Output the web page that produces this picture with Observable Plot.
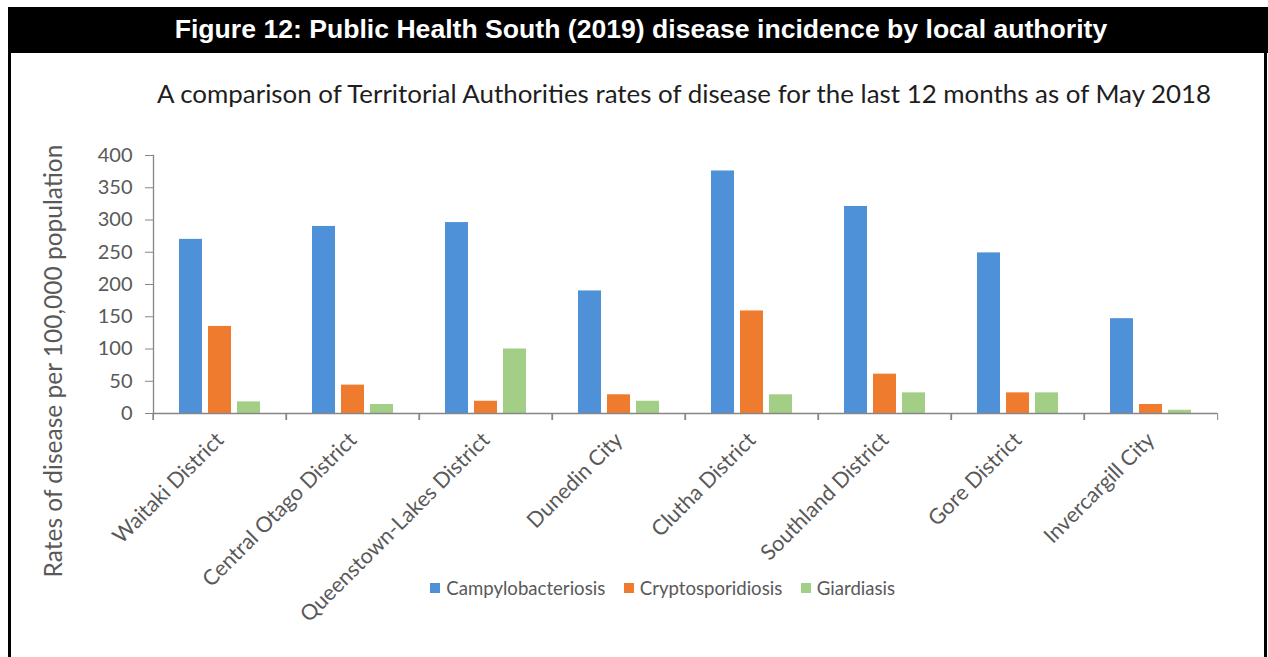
<!DOCTYPE html>
<html><head><meta charset="utf-8">
<script src="https://cdn.jsdelivr.net/npm/d3@7"></script>
<script src="https://cdn.jsdelivr.net/npm/@observablehq/plot@0.6"></script>
<style>
body{margin:0;background:#fff;}
#wrap{position:relative;width:1268px;height:657px;overflow:hidden;background:#fff;font-family:Lato,"Open Sans",sans-serif;}
#titlebar{position:absolute;left:8px;top:7px;width:1260px;height:46px;background:#000;color:#fff;font-family:"Liberation Sans Narrow","Liberation Sans",Arial,sans-serif;font-weight:bold;font-size:26.6px;line-height:44px;text-align:center;white-space:nowrap;}
#titlebar span{display:inline-block;margin-left:6px;}
.bl{position:absolute;background:#000;}
#subtitle{position:absolute;left:100px;width:1168px;top:77px;text-align:center;font-family:Lato,sans-serif;font-size:25.9px;color:#1e1e1e;white-space:nowrap;}
#ytitle{position:absolute;left:-167px;top:348px;width:440px;text-align:center;transform:rotate(-90deg);font-family:Lato,sans-serif;font-size:24.5px;color:#595959;white-space:nowrap;line-height:26px;}
#chart{position:absolute;left:0;top:130px;}
#legend{position:absolute;left:0;width:1268px;top:571px;display:flex;justify-content:center;padding-left:76px;box-sizing:border-box;}
#legend svg{margin-right:6px !important;}
</style>
</head><body>
<div id="wrap">
  <div id="chart"></div>
  <div id="titlebar"><span>Figure 12: Public Health South (2019) disease incidence by local authority</span></div>
  <div class="bl" style="left:8px;top:53px;width:3px;height:604px;"></div>
  <div class="bl" style="left:1264px;top:53px;width:3px;height:604px;"></div>
  <div id="subtitle">A comparison of Territorial Authorities rates of disease for the last 12 months as of May 2018</div>
  <div id="ytitle">Rates of disease per 100,000 population</div>
  <div id="legend"></div>
</div>
<script>
const districts = ["Waitaki District","Central Otago District","Queenstown-Lakes District","Dunedin City","Clutha District","Southland District","Gore District","Invercargill City"];
const diseases = ["Campylobacteriosis","Cryptosporidiosis","Giardiasis"];
const campylobacteriosis = [270, 290, 296, 190, 376, 321, 249, 147];
const cryptosporidiosis = [135, 44, 19, 29, 159, 61, 32, 14];
const giardiasis = [18, 14, 100, 19, 29, 32, 32, 5];
const yTicks = [0, 50, 100, 150, 200, 250, 300, 350, 400];
const colors = ["#4f91d9", "#ef7b2f", "#a3ce85"];

const series = [campylobacteriosis, cryptosporidiosis, giardiasis];
const data = [];
districts.forEach((d, i) => diseases.forEach((s, j) => data.push({district: d, disease: s, value: series[j][i]})));

const W = 1268, H = 500, mL = 152, mR = 50, mT = 25, mB = 217;
const half = (W - mL - mR) / districts.length / 2;
const axisColor = "#868686";
const textColor = "#595959";

const plot = Plot.plot({
  width: W, height: H,
  marginLeft: mL, marginRight: mR, marginTop: mT, marginBottom: mB,
  style: {fontFamily: "Lato, sans-serif", fontSize: "20px", background: "transparent", color: textColor},
  fx: {domain: districts, padding: 0, axis: null},
  x: {domain: diseases, paddingInner: 0.2, paddingOuter: 0.875, axis: null},
  y: {domain: [0, 400], axis: null},
  color: {domain: diseases, range: colors},
  marks: [
    Plot.barY(data, {fx: "district", x: "disease", y: "value", fill: "disease"}),
    Plot.ruleY([0], {stroke: axisColor, strokeWidth: 1.3}),
    Plot.frame({anchor: "left", facetAnchor: "left", stroke: axisColor, strokeWidth: 1.3}),
    Plot.axisY({ticks: yTicks, tickSize: 8, tickPadding: 13, label: null, stroke: axisColor, fill: textColor}),
    Plot.axisFx({anchor: "bottom", tickSize: 0, tickPadding: 23, tickRotate: -45, label: null, fill: textColor, fontSize: 21.5}),
    Plot.axisFx(districts, {anchor: "bottom", tickSize: 7, text: null, label: null, dx: -half, stroke: axisColor}),
    Plot.axisFx([districts[districts.length - 1]], {anchor: "bottom", tickSize: 7, text: null, label: null, dx: half, stroke: axisColor})
  ]
});
document.getElementById("chart").appendChild(plot);

const leg = Plot.legend({
  color: {domain: diseases, range: colors},
  swatchSize: 10,
  style: {fontFamily: "Lato, sans-serif", fontSize: "18.6px", color: textColor}
});
document.getElementById("legend").appendChild(leg);
</script>
</body></html>
